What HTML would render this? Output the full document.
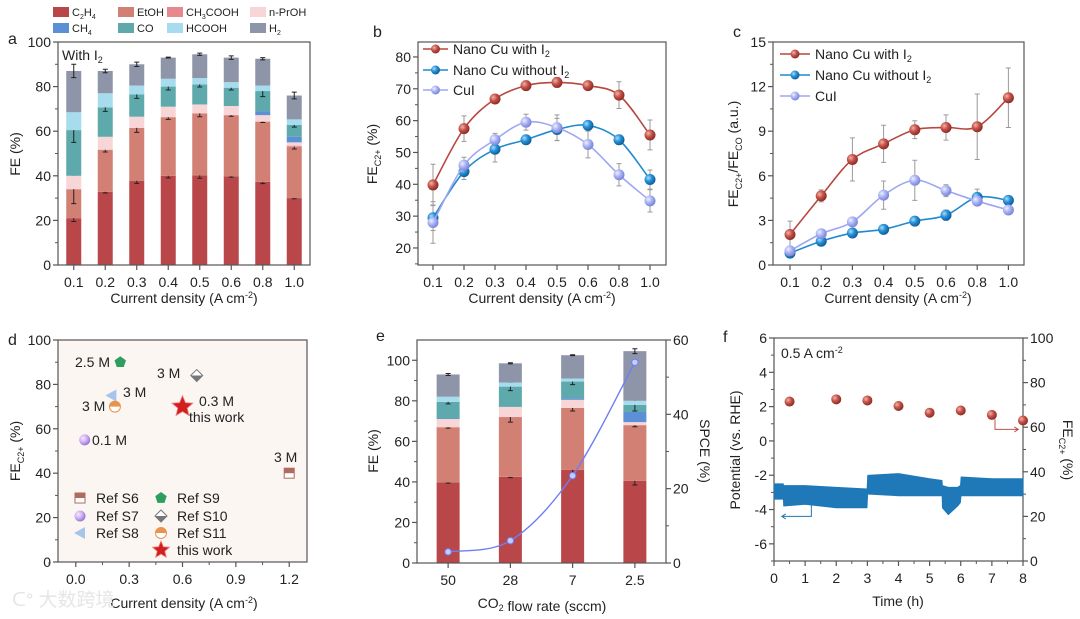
<!DOCTYPE html>
<html><head><meta charset="utf-8"><title>FE figure</title>
<style>
html,body{margin:0;padding:0;background:#fff;}
svg{display:block;font-family:"Liberation Sans","Noto Sans CJK SC",sans-serif;}
</style></head>
<body>
<svg id="fig" xmlns="http://www.w3.org/2000/svg" width="1080" height="619" viewBox="0 0 1080 619">
<defs>
<radialGradient id="gRed" cx="35%" cy="35%" r="65%"><stop offset="0" stop-color="#f2b3a8"/><stop offset="0.5" stop-color="#c4534a"/><stop offset="1" stop-color="#8e2d27"/></radialGradient>
<radialGradient id="gBlue" cx="35%" cy="35%" r="65%"><stop offset="0" stop-color="#a9dcff"/><stop offset="0.5" stop-color="#2590d6"/><stop offset="1" stop-color="#105f9a"/></radialGradient>
<radialGradient id="gLav" cx="35%" cy="35%" r="65%"><stop offset="0" stop-color="#eef0ff"/><stop offset="0.5" stop-color="#aab3f5"/><stop offset="1" stop-color="#7b86d8"/></radialGradient>
<radialGradient id="gPurp" cx="35%" cy="35%" r="65%"><stop offset="0" stop-color="#f5ecff"/><stop offset="0.6" stop-color="#c9a9f2"/><stop offset="1" stop-color="#9a78d0"/></radialGradient>
</defs>
</svg>
<script>
// ---------- DATA ----------
// panel a
const aCats = ['0.1','0.2','0.3','0.4','0.5','0.6','0.8','1.0'];
const aC2H4 = [21,32.8,37.8,40,40.2,39.8,37.3,30];
const aEtOH = [13,18.9,23.7,26.3,27.8,27.4,27,23];
const aCH3COOH = [0,0,0,0,0,0,0,0.5];
const aNPrOH = [6,5.8,5,4.7,4,4.1,2.9,1.5];
const aCH4 = [0,0,0,0,0,0,1.8,2.5];
const aCO = [20.5,13.2,10,9,9,8.2,9,5.3];
const aHCOOH = [8,6.3,4,3.5,2.8,2.5,2.5,2.5];
const aH2 = [18.5,10,9.5,9.5,10.7,11,12,10.7];
const aErrC2H4 = [1.5,0.5,1.2,1,1.3,0.4,0.8,0.3];
const aErrEtOH = [6.5,1,2,1,1.5,0.5,0.4,1];
const aErrCO = [5.5,1.8,1.8,1.5,1.2,1,2.5,1];
const aErrH2 = [3,0.8,1,0.2,0.5,0.8,0.5,1.5];
// panel b
const bCats = ['0.1','0.2','0.3','0.4','0.5','0.6','0.8','1.0'];
const bWith = [39.8,57.5,66.8,71,72,71,68,55.5];
const bWithErr = [6.5,4,1,1.5,1.5,1,4.2,4.7];
const bWithout = [29.5,44,51,54,57.2,58.5,54,41.5];
const bWithoutErr = [4,2.5,4,1,3.5,1,1.5,3];
const bCuI = [28,46,54,59.5,57.8,52.5,43,34.8];
const bCuIErr = [6.5,2.5,2,2.5,4,4.2,3.5,3.5];
const bTicks = [20,30,40,50,60,70,80];
// panel c
const cWith = [2.05,4.65,7.1,8.15,9.1,9.25,9.3,11.25];
const cWithErr = [0.9,0.4,1.45,1.25,0.6,0.85,2.2,2];
const cWithout = [0.8,1.6,2.15,2.4,2.95,3.35,4.55,4.35];
const cWithoutErr = [0.2,0.1,0.1,0.1,0.1,0.35,0.55,0.1];
const cCuI = [0.95,2.1,2.9,4.7,5.7,5.0,4.3,3.7];
const cCuIErr = [0.3,0.1,0.1,0.95,1.35,0.4,0.3,0.1];
const cTicks = [0,3,6,9,12,15];
// panel d
const dRefs = ['Ref S6','Ref S7','Ref S8','Ref S9','Ref S10','Ref S11','this work'];
const dX = [1.2,0.05,0.2,0.25,0.68,0.22,0.6];
const dY = [40,55,75,90,84,70,70];
const dXTicks = [0.0,0.3,0.6,0.9,1.2];
const dYTicks = [0,20,40,60,80,100];
// panel e
const eCats = ['50','28','7','2.5'];
const eC2H4 = [39.8,42.5,46,40.5];
const eEtOH = [27.2,29.5,30.5,27.5];
const eNPrOH = [4,5,4,1.5];
const eCH4 = [0.3,0,0.7,5];
const eCO = [8.2,10,8.3,3.5];
const eHCOOH = [2.5,2,1.5,2];
const eH2 = [11,9.5,11.5,24.5];
const eErrC2H4 = [0.4,0.4,2.5,2];
const eErrEtOH = [0.5,2.5,1.5,0.8];
const eErrCO = [1,2,1.5,3];
const eErrH2 = [0.5,0.3,0.2,1.2];
const eSPCE = [3,6,23.5,54];
// panel f
const fTimes = [0.5,2,3,4,5,6,7,8];
const fFE = [71.5,72.5,72,69.5,66.5,67.5,65.5,63];
const fPotT = [0,0.3,0.31,1,2,2.99,3.01,4,5,5.4,5.41,5.6,5.9,5.99,6.01,7,8];
const fPotHi = [-2.5,-2.5,-2.6,-2.6,-2.7,-2.8,-2.0,-1.9,-2.2,-2.3,-2.6,-2.7,-2.7,-2.6,-2.1,-2.2,-2.2];
const fPotLo = [-3.4,-3.4,-3.8,-3.7,-3.9,-3.9,-3.1,-3.2,-3.2,-3.2,-3.9,-4.3,-3.8,-3.6,-3.2,-3.2,-3.2];

// ---------- HELPERS ----------
const NS='http://www.w3.org/2000/svg';
const svg=document.getElementById('fig');
const FONT='"Liberation Sans","Noto Sans CJK SC",sans-serif';
function mk(tag,attrs,parent){const e=document.createElementNS(NS,tag);for(const k in attrs)e.setAttribute(k,attrs[k]);(parent||svg).appendChild(e);return e;}
function txt(x,y,s,attrs,parent){const a=Object.assign({x:x,y:y,'font-size':13,'font-family':FONT,fill:'#222'},attrs||{});const e=mk('text',a,parent);e.innerHTML=s;return e;}
function lin(d0,d1,r0,r1){return v=>r0+(v-d0)*(r1-r0)/(d1-d0);}
function smooth(pts){let d='M'+pts[0][0]+','+pts[0][1];for(let i=0;i<pts.length-1;i++){const p0=pts[i-1]||pts[i],p1=pts[i],p2=pts[i+1],p3=pts[i+2]||p2;const c1=[p1[0]+(p2[0]-p0[0])/6,p1[1]+(p2[1]-p0[1])/6];const c2=[p2[0]-(p3[0]-p1[0])/6,p2[1]-(p3[1]-p1[1])/6];d+=' C'+c1[0]+','+c1[1]+' '+c2[0]+','+c2[1]+' '+p2[0]+','+p2[1];}return d;}
const SUB2='<tspan font-size="9" dy="3">2</tspan><tspan dy="-3"></tspan>';
const SUPm2='<tspan font-size="9" dy="-5">-2</tspan><tspan dy="5">)</tspan>';
function frame(g,L,T,R,B,fill){const r=mk('rect',{x:L,y:T,width:R-L,height:B-T,fill:fill||'none',stroke:'#555','stroke-width':1.2},g);return r;}
function yTicksLeft(g,x,sy,vals,labels,minor){vals.forEach((v,i)=>{const t=mk('line',{x1:x,x2:x-5,y1:sy(v),y2:sy(v),stroke:'#555','stroke-width':1.2},g);


const l=txt(x-7,sy(v)+5,labels[i],{'text-anchor':'end','font-size':14},g);

});
(minor||[]).forEach(v=>{mk('line',{x1:x,x2:x-3,y1:sy(v),y2:sy(v),stroke:'#555','stroke-width':1},g);});}
function yTicksRight(g,x,sy,vals,labels,minor){vals.forEach((v,i)=>{const t=mk('line',{x1:x,x2:x+5,y1:sy(v),y2:sy(v),stroke:'#555','stroke-width':1.2},g);


const l=txt(x+7,sy(v)+5,labels[i],{'text-anchor':'start','font-size':14},g);

});
(minor||[]).forEach(v=>{mk('line',{x1:x,x2:x+3,y1:sy(v),y2:sy(v),stroke:'#555','stroke-width':1},g);});}
function xTicks(g,y,xs,labels,minorXs){xs.forEach((x,i)=>{const t=mk('line',{x1:x,x2:x,y1:y,y2:y+5,stroke:'#555','stroke-width':1.2},g);


const l=txt(x,y+22,labels[i],{'text-anchor':'middle','font-size':14},g);

});
(minorXs||[]).forEach(x=>{mk('line',{x1:x,x2:x,y1:y,y2:y+3,stroke:'#555','stroke-width':1},g);});}
function errBar(g,x,y0,y1,w,col){const p=mk('path',{d:'M'+x+','+y0+'V'+y1+'M'+(x-w)+','+y0+'H'+(x+w)+'M'+(x-w)+','+y1+'H'+(x+w),stroke:col||'#222','stroke-width':1,fill:'none'},g);return p;}
function ball(g,x,y,r,grad){return mk('circle',{cx:x,cy:y,r:r,fill:'url(#'+grad+')'},g);}
function rotLabel(g,x,y,s,ang){const e=txt(0,0,s,{'text-anchor':'middle','font-size':14,transform:'translate('+x+','+y+') rotate('+ang+')'},g);return e;}

const COL={C2H4:'#b9474a',EtOH:'#d27f74',CH3COOH:'#e9878f',NPrOH:'#f8d6d8',CH4:'#5b8fd6',CO:'#5da9ac',HCOOH:'#a6dcee',H2:'#8f95a8'};

// ---------- PANEL A ----------
(function(){
const g=mk('g',{});


const L=58,T=42,R=310,B=265;
const sy=lin(0,100,B,T);
const step=(R-L)/aCats.length;
const cx=i=>L+(i+0.5)*step;
const series=[['C2H4',aC2H4],['EtOH',aEtOH],['CH3COOH',aCH3COOH],['NPrOH',aNPrOH],['CH4',aCH4],['CO',aCO],['HCOOH',aHCOOH],['H2',aH2]];
const errs={C2H4:aErrC2H4,EtOH:aErrEtOH,CO:aErrCO,H2:aErrH2};
aCats.forEach((c,i)=>{let base=0;series.forEach(([k,arr])=>{const v=arr[i];if(v>0){const r=mk('rect',{x:cx(i)-7.5,y:sy(base+v),width:15,height:sy(base)-sy(base+v),fill:COL[k]},g);


}
base+=v;
if(errs[k]){const e=errs[k][i];const eb=errBar(g,cx(i),sy(base-e),sy(base+e),2.5);

}
});});
frame(g,L,T,R,B);
yTicksLeft(g,L,sy,[0,20,40,60,80,100],['0','20','40','60','80','100'],[10,30,50,70,90]);
xTicks(g,B,aCats.map((c,i)=>cx(i)),aCats);
const t=txt(62,60,'With I'+SUB2,{'font-size':14},g);


const yt=rotLabel(g,20,154,'FE (%)',-90);


const xt=txt(184,303,'Current density (A cm'+SUPm2,{'text-anchor':'middle','font-size':14},g);


const lt=txt(8,44,'a',{'font-size':16},g);


// legend
const leg=[['C2H4','C<tspan font-size="7" dy="3">2</tspan><tspan dy="-3">H</tspan><tspan font-size="7" dy="3">4</tspan>',53,12],['EtOH','EtOH',118,12],['CH3COOH','CH<tspan font-size="7" dy="3">3</tspan><tspan dy="-3">COOH</tspan>',167,12],['NPrOH','n-PrOH',250,12],
['CH4','CH<tspan font-size="7" dy="3">4</tspan>',53,28],['CO','CO',118,28],['HCOOH','HCOOH',167,28],['H2','H<tspan font-size="7" dy="3">2</tspan>',250,28]];
leg.forEach(([k,lab,x,y])=>{const sw=mk('rect',{x:x,y:y-5,width:16,height:10,fill:COL[k]},g);


const lt2=txt(x+19,y+4,lab,{'font-size':11},g);

});
})();

// ---------- line panel helper ----------
function linePanel(id,L,T,R,B,ymin,ymax,x0,xstep,seriesList,legY,legX,legLen){
const g=mk('g',{});


const sy=lin(ymin,ymax,B,T);
const sx=i=>x0+i*xstep;
frame(g,L,T,R,B);
seriesList.forEach(s=>{
s.vals.forEach((v,i)=>{const eb=errBar(g,sx(i),sy(v-s.err[i]),sy(v+s.err[i]),2.5,'#9a9a9a');

});
});
seriesList.forEach(s=>{
const p=mk('path',{d:smooth(s.vals.map((v,i)=>[sx(i),sy(v)])),fill:'none',stroke:s.line,'stroke-width':1.6},g);


s.vals.forEach((v,i)=>{const c=ball(g,sx(i),sy(v),5.5,s.grad);

});
});
seriesList.forEach((s,k)=>{const y=legY[k];
const l=mk('line',{x1:legX,x2:legX+legLen,y1:y,y2:y,stroke:s.line,'stroke-width':1.6},g);


const b=ball(g,legX+legLen/2,y,4.5,s.grad);


const t=txt(legX+legLen+5,y+5,s.label,{'font-size':14},g);

});
return {g,sy,sx};
}

// ---------- PANEL B ----------
(function(){
const P=linePanel('panel-b',418,42,666,265,14.65,84.7,433,31,[
{key:'nano-cu-with-i2',vals:bWith,err:bWithErr,line:'#b9473f',grad:'gRed',label:'Nano Cu with I'+SUB2},
{key:'nano-cu-without-i2',vals:bWithout,err:bWithoutErr,line:'#1f8ad0',grad:'gBlue',label:'Nano Cu without I'+SUB2},
{key:'cui',vals:bCuI,err:bCuIErr,line:'#9ea7f2',grad:'gLav',label:'CuI'}],[49,70,90],423,25);
const g=P.g;
yTicksLeft(g,418,P.sy,bTicks,bTicks.map(String),[15,25,35,45,55,65,75]);
xTicks(g,265,bCats.map((c,i)=>P.sx(i)),bCats);
const yt=rotLabel(g,377,154,'FE<tspan font-size="9" dy="4">C2+</tspan><tspan dy="-4"> (%)</tspan>',-90);


const xt=txt(542,303,'Current density (A cm'+SUPm2,{'text-anchor':'middle','font-size':14},g);


const lt=txt(373,37,'b',{'font-size':16},g);


})();

// ---------- PANEL C ----------
(function(){
const P=linePanel('panel-c',773,42,1024,265,0,15,790,31.2,[
{key:'nano-cu-with-i2',vals:cWith,err:cWithErr,line:'#b9473f',grad:'gRed',label:'Nano Cu with I'+SUB2},
{key:'nano-cu-without-i2',vals:cWithout,err:cWithoutErr,line:'#1f8ad0',grad:'gBlue',label:'Nano Cu without I'+SUB2},
{key:'cui',vals:cCuI,err:cCuIErr,line:'#9ea7f2',grad:'gLav',label:'CuI'}],[54,75,96],780,30);
const g=P.g;
yTicksLeft(g,773,P.sy,cTicks,cTicks.map(String),[1.5,4.5,7.5,10.5,13.5]);
xTicks(g,265,bCats.map((c,i)=>P.sx(i)),bCats);
const yt=rotLabel(g,738,154,'FE<tspan font-size="9" dy="4">C2+</tspan><tspan dy="-4">/FE</tspan><tspan font-size="9" dy="4">CO</tspan><tspan dy="-4"> (a.u.)</tspan>',-90);


const xt=txt(898,303,'Current density (A cm'+SUPm2,{'text-anchor':'middle','font-size':14},g);


const lt=txt(733,37,'c',{'font-size':16},g);


})();

// ---------- marker shapes for d ----------
function marker(g,kind,x,y,s){
if(kind===0){const grp=mk('g',{},g);mk('rect',{x:x-5,y:y-5,width:10,height:10,fill:'#fff',stroke:'#b06a5e','stroke-width':1},grp);mk('rect',{x:x-5,y:y-5,width:10,height:5,fill:'#b06a5e'},grp);return grp;}
if(kind===1){return mk('circle',{cx:x,cy:y,r:5.5,fill:'url(#gPurp)'},g);}
if(kind===2){return mk('path',{d:'M'+(x-6)+','+y+'L'+(x+5)+','+(y-6)+'L'+(x+5)+','+(y+6)+'Z',fill:'#a9c4ea'},g);}
if(kind===3){const pts=[];for(let k=0;k<5;k++){const a=-Math.PI/2+k*2*Math.PI/5;pts.push((x+6*Math.cos(a))+','+(y+6*Math.sin(a)));}return mk('polygon',{points:pts.join(' '),fill:'#2e9e5e'},g);}
if(kind===4){const grp=mk('g',{},g);mk('path',{d:'M'+(x-6)+','+y+'L'+x+','+(y-6)+'L'+(x+6)+','+y+'L'+x+','+(y+6)+'Z',fill:'#fff',stroke:'#777','stroke-width':1},grp);mk('path',{d:'M'+(x-6)+','+y+'L'+(x+6)+','+y+'L'+x+','+(y+6)+'Z',fill:'#777'},grp);return grp;}
if(kind===5){const grp=mk('g',{},g);mk('circle',{cx:x,cy:y,r:5.5,fill:'#fff',stroke:'#e8944e','stroke-width':1},grp);mk('path',{d:'M'+(x-5.5)+','+y+'A5.5,5.5 0 0 1 '+(x+5.5)+','+y+'Z',fill:'#e8944e'},grp);return grp;}
const pts=[];for(let k=0;k<10;k++){const a=-Math.PI/2+k*Math.PI/5;const r=k%2?(s||10)*0.45:(s||10);pts.push((x+r*Math.cos(a))+','+(y+r*Math.sin(a)));}
return mk('polygon',{points:pts.join(' '),fill:'#d11f1f',stroke:'#f08080','stroke-width':0.8},g);
}

// ---------- PANEL D ----------
(function(){
const g=mk('g',{});


const L=58,T=340,R=307,B=562;
const sx=lin(-0.1,1.3,L,R), sy=lin(0,100,B,T);
frame(g,L,T,R,B,'#fcf6f3');
yTicksLeft(g,L,sy,dYTicks,dYTicks.map(String),[10,30,50,70,90]);
xTicks(g,B,dXTicks.map(sx),dXTicks.map(v=>v.toFixed(1)),[-0.15,0.15,0.45,0.75,1.05].map(sx));
dRefs.forEach((r,i)=>{const m=marker(g,i,sx(dX[i]),sy(dY[i]),11);

});
const ann=[['2.5 M',75,367],['3 M',157,378],['3 M',123,397],['3 M',82,411],['0.1 M',92,445],['0.3 M',199,406],['this work',189,422],['3 M',274,462]];
ann.forEach(([s,x,y])=>{const t=txt(x,y,s,{'font-size':14},g);

});
const legPos=[[80,498],[80,516],[80,533],[161,498],[161,516],[161,533],[161,550]];
dRefs.forEach((r,i)=>{const [x,y]=legPos[i];const m=marker(g,i,x,y,9);


const t=txt(x+16,y+5,r,{'font-size':14},g);

});
const yt=rotLabel(g,20,451,'FE<tspan font-size="9" dy="4">C2+</tspan><tspan dy="-4"> (%)</tspan>',-90);


const xt=txt(184,608,'Current density (A cm'+SUPm2,{'text-anchor':'middle','font-size':14},g);


const lt=txt(8,345,'d',{'font-size':16},g);


const wm=txt(12,606,'ᑕᐤ 大数跨境',{'font-size':19,fill:'#e6e6e6'},g);


})();

// ---------- PANEL E ----------
(function(){
const g=mk('g',{});


const L=417,T=340,R=666,B=563;
const sy=lin(0,110,B,T), sy2=lin(0,60,B,T);
const step=(R-L)/eCats.length;
const cx=i=>L+(i+0.5)*step;
const series=[['C2H4',eC2H4],['EtOH',eEtOH],['NPrOH',eNPrOH],['CH4',eCH4],['CO',eCO],['HCOOH',eHCOOH],['H2',eH2]];
const errs={C2H4:eErrC2H4,EtOH:eErrEtOH,CO:eErrCO,H2:eErrH2};
eCats.forEach((c,i)=>{let base=0;series.forEach(([k,arr])=>{const v=arr[i];if(v>0){const r=mk('rect',{x:cx(i)-11.5,y:sy(base+v),width:23,height:sy(base)-sy(base+v),fill:COL[k]},g);

}
base+=v;
if(errs[k]){const e=errs[k][i];const eb=errBar(g,cx(i),sy(base-e),sy(base+e),2.5);

}
});});
frame(g,L,T,R,B);
const p=mk('path',{d:smooth(eSPCE.map((v,i)=>[cx(i),sy2(v)])),fill:'none',stroke:'#6f7ff0','stroke-width':1.4},g);


eSPCE.forEach((v,i)=>{const c=mk('circle',{cx:cx(i),cy:sy2(v),r:3.2,fill:'#c5ccff',stroke:'#6f7ff0','stroke-width':1},g);

});
yTicksLeft(g,L,sy,[0,20,40,60,80,100],['0','20','40','60','80','100'],[10,30,50,70,90]);
yTicksRight(g,R,sy2,[0,20,40,60],['0','20','40','60'],[10,30,50]);
xTicks(g,B,eCats.map((c,i)=>cx(i)),eCats);
const yt=rotLabel(g,378,451,'FE (%)',-90);


const yt2=rotLabel(g,700,451,'SPCE (%)',90);


const xt=txt(542,608,'CO'+SUB2+' flow rate (sccm)',{'text-anchor':'middle','font-size':14},g);


const lt=txt(376,341,'e',{'font-size':16},g);


})();

// ---------- PANEL F ----------
(function(){
const g=mk('g',{});


const L=774,T=338,R=1023,B=561;
const sx=lin(0,8,L,R), sy=lin(-7,6,B,T), sy2=lin(0,100,B,T);
frame(g,L,T,R,B);
let d='M'+fPotT.map((t,i)=>sx(t)+','+sy(fPotHi[i])).join(' L');
d+=' L'+fPotT.slice().reverse().map((t,j)=>{const i=fPotT.length-1-j;return sx(t)+','+sy(fPotLo[i]);}).join(' L')+'Z';
const band=mk('path',{d:d,fill:'#1f78b8',stroke:'#1f78b8','stroke-width':0.8,'stroke-linejoin':'bevel'},g);


fTimes.forEach((t,i)=>{const c=ball(g,sx(t),sy2(fFE[i]),5,'gRed');

});
const a1=mk('path',{d:'M'+sx(1.2)+','+sy(-3.7)+'V'+sy(-4.4)+'H'+sx(0.25)+'M'+(sx(0.25)+4)+','+(sy(-4.4)-2.5)+'L'+sx(0.25)+','+sy(-4.4)+'L'+(sx(0.25)+4)+','+(sy(-4.4)+2.5),fill:'none',stroke:'#1f78b8','stroke-width':1},g);


const a2=mk('path',{d:'M'+sx(7.1)+','+sy2(63.5)+'V'+sy2(59)+'H'+sx(7.85)+'M'+(sx(7.85)-4)+','+(sy2(59)-2.5)+'L'+sx(7.85)+','+sy2(59)+'L'+(sx(7.85)-4)+','+(sy2(59)+2.5),fill:'none',stroke:'#c0504a','stroke-width':1},g);


yTicksLeft(g,L,sy,[-6,-4,-2,0,2,4,6],['-6','-4','-2','0','2','4','6'],[-7,-5,-3,-1,1,3,5]);
yTicksRight(g,R,sy2,[0,20,40,60,80,100],['0','20','40','60','80','100'],[10,30,50,70,90]);
xTicks(g,B,[0,1,2,3,4,5,6,7,8].map(sx),['0','1','2','3','4','5','6','7','8'],[0.5,1.5,2.5,3.5,4.5,5.5,6.5,7.5].map(sx));
const an=txt(781,358,'0.5 A cm<tspan font-size="9" dy="-5">-2</tspan>',{'font-size':14},g);


const yt=rotLabel(g,740,450,'Potential (vs. RHE)',-90);


const yt2=rotLabel(g,1063,450,'FE<tspan font-size="9" dy="4">C2+</tspan><tspan dy="-4"> (%)</tspan>',90);


const xt=txt(898,606,'Time (h)',{'text-anchor':'middle','font-size':14},g);


const lt=txt(723,342,'f',{'font-size':16},g);


})();
</script>
</body></html>
